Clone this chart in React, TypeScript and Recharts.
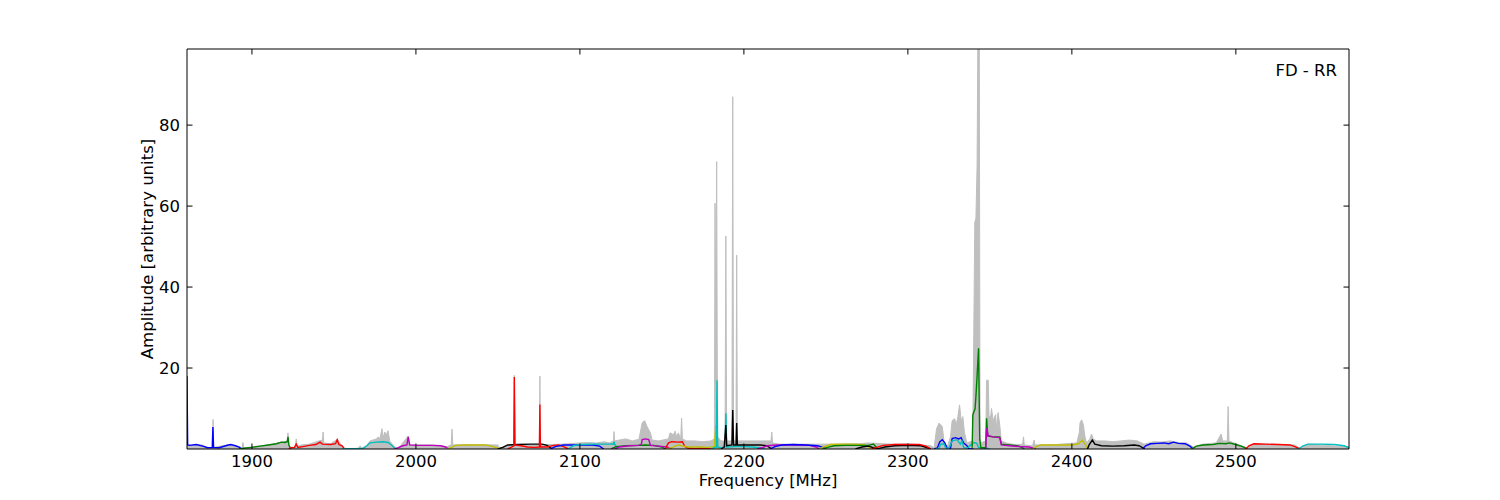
import React from 'react';
import { ComposedChart, Line, Area, XAxis, YAxis } from 'recharts';

// [frequency MHz, amplitude] pairs
const grayEnvelope: [number, number][] = [
  [1860.4, 18], [1860.8, 1], [1870, 1], [1873, 0.3], [1876, 0.4], [1876.3, 7.3], [1876.6, 0.4],
  [1886, 1.1], [1892, 0.5], [1894, 0.3], [1894.5, 1.6], [1895, 0.3], [1910, 1], [1918, 1.7],
  [1921.5, 1.9], [1922, 4], [1922.5, 1], [1924, 0.4], [1926.5, 0.5], [1927, 2.5], [1927.5, 0.6],
  [1930, 1], [1935, 1.2], [1938, 1.6], [1941, 2], [1943, 2.2], [1943.4, 4.2], [1943.8, 1.5],
  [1948, 1.3], [1952, 2.4], [1955, 0.8], [1956, 0], [1965, 0.2], [1966, 0.8], [1966.5, 0.2],
  [1970, 0.8], [1972, 2], [1976, 2.5], [1977, 3], [1978, 2.5], [1979.3, 5], [1980, 2.8],
  [1981, 4.2], [1982, 3.5], [1983, 4.5], [1984, 2], [1986, 1], [1988, 0.3], [1990, 0.5],
  [1995.3, 3.2], [1996, 1], [2010, 1], [2019, 0.6], [2021.5, 1], [2022, 4.9], [2022.5, 1],
  [2030, 1.1], [2050, 1], [2051, 0.2], [2056, 1], [2059.7, 1], [2060, 18.2], [2060.4, 1],
  [2075.3, 1], [2075.6, 18], [2075.9, 1], [2088, 1.2], [2093, 1.3], [2100, 1.5], [2105, 1.6],
  [2110, 1.5], [2115, 1.8], [2118, 1.5], [2120.5, 2], [2120.8, 4.3], [2121.2, 2], [2124, 2.2],
  [2128, 2.5], [2132, 2], [2136, 2.4], [2138, 6.5], [2139.5, 7], [2141, 5.5], [2143, 4],
  [2144, 2.2], [2148, 2], [2154, 2.5], [2155, 4], [2157, 3.5], [2158, 4.4], [2159, 3],
  [2160, 4], [2161.5, 2.5], [2162, 7.6], [2162.5, 2.5], [2165, 2], [2170, 2], [2175, 1.8],
  [2180, 2], [2182, 2.5], [2182.4, 60.7], [2182.8, 30], [2183.4, 71], [2183.9, 3], [2186, 2],
  [2188.5, 2], [2189, 52.6], [2189.5, 2], [2192.7, 2], [2193.2, 87], [2193.7, 2], [2195.2, 2],
  [2195.6, 47.9], [2196, 2], [2200, 2], [2205, 2], [2210, 2], [2214, 2], [2216.5, 2],
  [2217, 4.2], [2217.5, 1.5], [2222, 1.2], [2240, 1.2], [2250, 1.2], [2270, 1.3], [2275.6, 1.5],
  [2290, 1.2], [2300, 1.3], [2314, 0.8], [2316, 0.3], [2317.5, 5], [2319, 6.4], [2321, 5.5],
  [2322, 2], [2324, 0.5], [2326, 3], [2327, 7], [2328.5, 7.5], [2329.5, 6], [2330.5, 8],
  [2331.5, 10.9], [2332.5, 7], [2333.5, 8], [2334.5, 4], [2336, 1.5], [2339.5, 2], [2340, 20],
  [2340.8, 56], [2341.5, 57], [2342.2, 70], [2342.8, 110], [2343.5, 110], [2344, 3],
  [2344.5, 1.5], [2347.5, 2], [2348, 17], [2349, 17], [2349.5, 8], [2350.5, 8], [2351, 10],
  [2352, 7], [2353.5, 8.5], [2354, 5], [2355, 9], [2356, 6], [2357, 2], [2360, 1.5], [2366, 1],
  [2370, 1.2], [2370.5, 3], [2371, 1], [2376, 0.8], [2377, 2.2], [2377.5, 1], [2390, 1.1],
  [2403, 1.5], [2404.5, 4], [2405, 6.5], [2406, 7.2], [2407, 6], [2408, 3], [2409, 1.5],
  [2411, 2.5], [2412, 3.7], [2413, 2.5], [2415, 2], [2420, 2], [2425, 1.8], [2430, 2],
  [2435, 2.2], [2440, 2], [2444, 1.2], [2450, 1.8], [2455, 1.7], [2460, 2], [2465, 1.6],
  [2470, 1.5], [2474, 0.5], [2480, 1.2], [2488, 1.5], [2491, 3.7], [2492, 2], [2494.8, 2],
  [2495.3, 10.5], [2495.8, 2], [2500, 1.3], [2507, 0.3], [2511, 1.3], [2536, 1], [2539, 0.2],
  [2544, 1.2], [2569, 0.5],
];

const band01: [number, number][] = [[1860.4, 18], [1860.8, 1], [1862, 0.9], [1866, 1.1], [1870, 0.7], [1873, 0.3], [1875.8, 0.4], [1876.2, 5.4], [1876.6, 0.4], [1880, 0.3], [1884, 0.8], [1887, 1.1], [1890, 0.8], [1892.5, 0.4], [1893.5, 0]];
const band02: [number, number][] = [[1892, 0], [1895, 0.2], [1900, 0.4], [1905, 0.7], [1910, 1.0], [1915, 1.3], [1918, 1.7], [1920, 1.6], [1921.5, 1.8], [1922, 3.0], [1922.5, 1.0], [1923.5, 0]];
const band03: [number, number][] = [[1922.5, 0], [1924, 0.3], [1926, 0.4], [1927, 1.2], [1928, 0.4], [1931, 0.6], [1935, 0.9], [1939, 1.1], [1941.5, 1.7], [1943, 1.2], [1948, 1.1], [1951, 1.3], [1952, 2.3], [1953, 1.1], [1955, 0.8], [1956.5, 0]];
const band04: [number, number][] = [[1955, 0], [1958, 0.1], [1964, 0.1], [1968, 0.2], [1970, 0.8], [1972, 1.5], [1976, 1.7], [1980, 1.8], [1983, 1.6], [1985, 1.0], [1987, 0.2], [1988, 0]];
const band05: [number, number][] = [[1987, 0], [1989, 0.3], [1992, 0.8], [1994.5, 1.0], [1995.3, 3.0], [1996.2, 1.0], [2000, 0.9], [2005, 0.9], [2010, 0.9], [2015, 0.8], [2018, 0.5], [2020, 0]];
const band06: [number, number][] = [[2019, 0], [2021, 0.3], [2024, 0.9], [2030, 1.0], [2036, 1.0], [2042, 1.0], [2046, 0.7], [2049, 0.3], [2051, 0]];
const band07: [number, number][] = [[2050, 0], [2053, 0.4], [2056, 1.0], [2062, 1.1], [2070, 1.2], [2077, 1.2], [2080, 0.9], [2083, 0]];
const band08: [number, number][] = [[2056, 0], [2058, 0.4], [2059.7, 0.8], [2060, 17.8], [2060.4, 1.0], [2064, 0.8], [2068, 0.5], [2072, 0.4], [2075.3, 0.5], [2075.6, 11], [2075.9, 0.5], [2080, 0.5], [2084, 0.9], [2087, 1.0], [2090, 0.6], [2093, 0]];
const band09: [number, number][] = [[2082, 0], [2085, 0.6], [2090, 1.0], [2100, 1.0], [2108, 1.0], [2112, 0.7], [2114.5, 0]];
const band10: [number, number][] = [[2093, 0], [2096, 0.8], [2100, 1.1], [2110, 1.2], [2118, 1.2], [2120.5, 1.3], [2120.8, 1.8], [2121.2, 1.2], [2123, 0]];
const band11: [number, number][] = [[2119, 0], [2122, 0.6], [2128, 0.8], [2135, 0.9], [2140, 1.0], [2145, 0.9], [2150, 0.5], [2152, 0]];
const band12: [number, number][] = [[2121, 0], [2124, 0.5], [2130, 0.8], [2136, 0.9], [2137.5, 1.2], [2138, 2.3], [2140, 2.5], [2142, 2.3], [2143, 0.9], [2148, 0.7], [2153, 0.5], [2156, 0]];
const band13: [number, number][] = [[2152, 0], [2154, 1.5], [2156, 1.8], [2160, 1.7], [2162.5, 1.8], [2164, 0.6], [2166, 0.2], [2170, 0.1], [2175, 0.2], [2180, 0]];
const band14: [number, number][] = [[2153, 0], [2156, 0.3], [2158, 0.7], [2160, 1.0], [2162, 0.8], [2166, 0.5], [2172, 0.5], [2178, 0.4], [2182, 0.6], [2182.9, 5.9], [2183.4, 0.8], [2185, 0]];
const band15: [number, number][] = [[2180, 0], [2183.2, 0.5], [2183.6, 17], [2184, 0.5], [2186, 0.3], [2188.5, 0.5], [2189, 8.8], [2189.5, 0.5], [2195, 0.6], [2200, 0.6], [2205, 0.5], [2210, 0.3], [2213, 0]];
const band16: [number, number][] = [[2186, 0], [2188, 0.5], [2189, 5.9], [2189.5, 0.8], [2192.7, 1.0], [2193.2, 9.6], [2193.7, 1.0], [2195.2, 1.0], [2195.6, 6.4], [2196, 1.0], [2200, 1.0], [2205, 1.0], [2210, 1.0], [2214, 0.8], [2217, 0]];
const band17: [number, number][] = [[2208, 0], [2211, 0.3], [2214, 0.8], [2220, 1.0], [2230, 1.0], [2240, 0.9], [2244, 0.5], [2246, 0]];
const band18: [number, number][] = [[2216, 0], [2219, 0.6], [2223, 1.0], [2230, 1.1], [2238, 1.0], [2245, 0.8], [2248, 0.4], [2250, 0]];
const band19: [number, number][] = [[2246, 0], [2249, 0.6], [2253, 1.1], [2260, 1.2], [2268, 1.2], [2274, 1.0], [2278, 0]];
const band20: [number, number][] = [[2248, 0], [2251, 0.4], [2255, 0.8], [2262, 0.9], [2270, 0.9], [2276, 0.9], [2279, 1.2], [2281, 0.3], [2283, 0]];
const band21: [number, number][] = [[2268, 0], [2272, 0.5], [2276, 0.7], [2279, 0.3], [2282, 0.1], [2286, 0.5], [2292, 0.8], [2300, 0.9], [2308, 0.8], [2312, 0.3], [2314, 0]];
const band22: [number, number][] = [[2278, 0], [2281, 0.4], [2285, 0.9], [2292, 1.1], [2300, 1.1], [2307, 1.1], [2311, 0.7], [2314, 0]];
const band23: [number, number][] = [[2316, 0], [2318, 0.3], [2319.5, 1.8], [2321, 2.3], [2322.5, 1.5], [2324, 0.1], [2326, 0.2], [2327, 2.6], [2329, 2.8], [2331, 2.5], [2332.5, 2.8], [2334, 1.5], [2336, 0.8], [2337, 0.1], [2340, 0]];
const band24: [number, number][] = [[2317, 0], [2319, 0.2], [2320, 1.2], [2322, 1.3], [2323, 0.3], [2325, 0.1], [2327, 2.0], [2330, 2.3], [2332, 1.2], [2333, 2.0], [2334, 0.4], [2336, 0.2], [2339, 1.2], [2340, 1.6], [2342, 1.4], [2343, 0.4], [2346, 0.3], [2348, 0.2], [2350, 0]];
const band25: [number, number][] = [[2339.2, 0.3], [2339.6, 8.4], [2341, 10], [2341.5, 13], [2342.2, 18], [2343.1, 24.9], [2343.8, 2.5], [2344.5, 0.3], [2347.5, 0.3], [2348, 7.6], [2348.7, 3.2], [2352, 3.0], [2356, 3.0], [2357, 1.2], [2362, 1.0], [2367, 0.8], [2370, 0.3], [2371, 0]];
const band26: [number, number][] = [[2347, 0], [2347.5, 0.3], [2348, 5.1], [2349, 3.3], [2352, 3.0], [2356, 2.8], [2357, 1.0], [2362, 0.8], [2368, 0.6], [2374, 0.5], [2378, 0]];
const band27: [number, number][] = [[2376, 0], [2378, 0.5], [2381, 1.0], [2390, 1.0], [2400, 1.0], [2404, 1.3], [2406.5, 2.2], [2408, 1.2], [2410, 0]];
const band28: [number, number][] = [[2409.5, 0], [2410.5, 1.0], [2412.5, 2.2], [2414, 1.2], [2418, 0.8], [2425, 0.7], [2432, 0.8], [2438, 1.0], [2441, 0.8], [2444.5, 0]];
const band29: [number, number][] = [[2443, 0], [2445, 0.8], [2448, 1.3], [2452, 1.4], [2456, 1.5], [2459, 1.3], [2462, 1.7], [2465, 1.4], [2469, 1.3], [2472, 0.7], [2474, 0]];
const band30: [number, number][] = [[2473, 0], [2476, 0.7], [2480, 1.0], [2486, 1.1], [2490, 1.4], [2494, 1.3], [2496, 1.5], [2500, 1.1], [2504, 0.6], [2507, 0]];
const band31: [number, number][] = [[2506, 0], [2508, 0.8], [2511, 1.3], [2518, 1.2], [2526, 1.1], [2533, 1.0], [2536, 0.6], [2539, 0]];
const band32: [number, number][] = [[2538, 0], [2541, 0.8], [2544, 1.2], [2552, 1.2], [2560, 1.1], [2566, 0.8], [2569, 0.3]];

const bandList = [
  band01, band02, band03, band04, band05, band06, band07, band08, band09, band10, band11,
  band12, band13, band14, band15, band16, band17, band18, band19, band20, band21, band22,
  band23, band24, band25, band26, band27, band28, band29, band30, band31, band32,
];
const bandColors = [
  'b', 'g', 'r', 'c', 'm', 'y', 'k', 'r', 'b', 'c', 'g',
  'm', 'r', 'y', 'c', 'k', 'm', 'b', 'y', 'g', 'k', 'r',
  'b', 'c', 'g', 'm', 'y', 'k', 'b', 'g', 'r', 'c',
];

const xTicks = [1900, 2000, 2100, 2200, 2300, 2400, 2500];
const yTicks = [20, 40, 60, 80];
const xDomain = [1860.4, 2569];
const yDomain = [0, 98.8];

const mplColors: Record<string, string> = {
  b: '#0000ff', g: '#008000', r: '#ff0000', c: '#00bfbf', m: '#bf00bf', y: '#bfbf00', k: '#000000',
};

const toRows = (pts: [number, number][]) => pts.map(([f, v]) => ({ f, v }));

const FONT = 'DejaVu Sans, sans-serif';
const FS = 16.5;
const TICK_LEN = 5.5;

function BottomTick({ x, y, payload }: any) {
  return (
    <g>
      <line x1={x} y1={y} x2={x} y2={y - TICK_LEN} stroke="#000" />
      <text x={x} y={y + 18} textAnchor="middle" fontSize={FS} fontFamily={FONT} fill="#000">
        {payload.value}
      </text>
    </g>
  );
}

function TopTick({ x, y }: any) {
  return <line x1={x} y1={y} x2={x} y2={y + TICK_LEN} stroke="#000" />;
}

function LeftTick({ x, y, payload }: any) {
  return (
    <g>
      <line x1={x} y1={y} x2={x + TICK_LEN} y2={y} stroke="#000" />
      <text x={x - 7} y={y + 6} textAnchor="end" fontSize={FS} fontFamily={FONT} fill="#000">
        {payload.value}
      </text>
    </g>
  );
}

function RightTick({ x, y }: any) {
  return <line x1={x} y1={y} x2={x - TICK_LEN} y2={y} stroke="#000" />;
}

// plot area: x 187..1349, y 49..449
export default function App() {
  return (
    <div style={{ position: 'absolute', left: 0, top: 0, width: 1500, height: 500, background: '#fff' }}>
      <ComposedChart width={1500} height={500} margin={{ top: 48, right: 150, bottom: 21, left: 147 }}>
        <XAxis
          type="number"
          dataKey="f"
          domain={xDomain}
          allowDataOverflow
          ticks={xTicks}
          height={30}
          tickSize={0}
          tickMargin={0}
          tickLine={false}
          axisLine={{ stroke: '#000' }}
          tick={<BottomTick />}
          label={({ viewBox }: any) => (
            <text
              x={viewBox.x + viewBox.width / 2}
              y={viewBox.y + 37}
              textAnchor="middle"
              fontSize={FS}
              fontFamily={FONT}
              fill="#000"
            >
              Frequency [MHz]
            </text>
          )}
        />
        <XAxis
          xAxisId="top"
          orientation="top"
          type="number"
          dataKey="f"
          domain={xDomain}
          allowDataOverflow
          ticks={xTicks}
          height={1}
          tickSize={0}
          tickMargin={0}
          tickLine={false}
          axisLine={{ stroke: '#000' }}
          tick={<TopTick />}
        />
        <YAxis
          type="number"
          domain={yDomain}
          allowDataOverflow
          ticks={yTicks}
          width={40}
          tickSize={0}
          tickMargin={0}
          tickLine={false}
          axisLine={{ stroke: '#000' }}
          tick={<LeftTick />}
          label={({ viewBox }: any) => {
            const cx = viewBox.x + viewBox.width - 34;
            const cy = viewBox.y + viewBox.height / 2;
            return (
              <text
                x={cx}
                y={cy}
                transform={`rotate(-90, ${cx}, ${cy})`}
                textAnchor="middle"
                fontSize={FS}
                fontFamily={FONT}
                fill="#000"
              >
                Amplitude [arbitrary units]
              </text>
            );
          }}
        />
        <YAxis
          yAxisId="right"
          orientation="right"
          type="number"
          domain={yDomain}
          allowDataOverflow
          ticks={yTicks}
          width={1}
          tickSize={0}
          tickMargin={0}
          tickLine={false}
          axisLine={{ stroke: '#000' }}
          tick={<RightTick />}
          label={({ viewBox }: any) => (
            <text
              x={viewBox.x - 12}
              y={viewBox.y + 27}
              textAnchor="end"
              fontSize={FS}
              fontFamily={FONT}
              fill="#000"
            >
              FD - RR
            </text>
          )}
        />
        <Area
          data={toRows(grayEnvelope)}
          dataKey="v"
          type="linear"
          stroke="#bfbfbf"
          strokeWidth={1}
          fill="#bfbfbf"
          fillOpacity={1}
          dot={false}
          activeDot={false}
          isAnimationActive={false}
        />
        {bandList.map((pts, i) => (
          <Line
            key={i}
            data={toRows(pts)}
            dataKey="v"
            type="linear"
            stroke={mplColors[bandColors[i]]}
            strokeWidth={1.4}
            dot={false}
            activeDot={false}
            isAnimationActive={false}
          />
        ))}
      </ComposedChart>
    </div>
  );
}
